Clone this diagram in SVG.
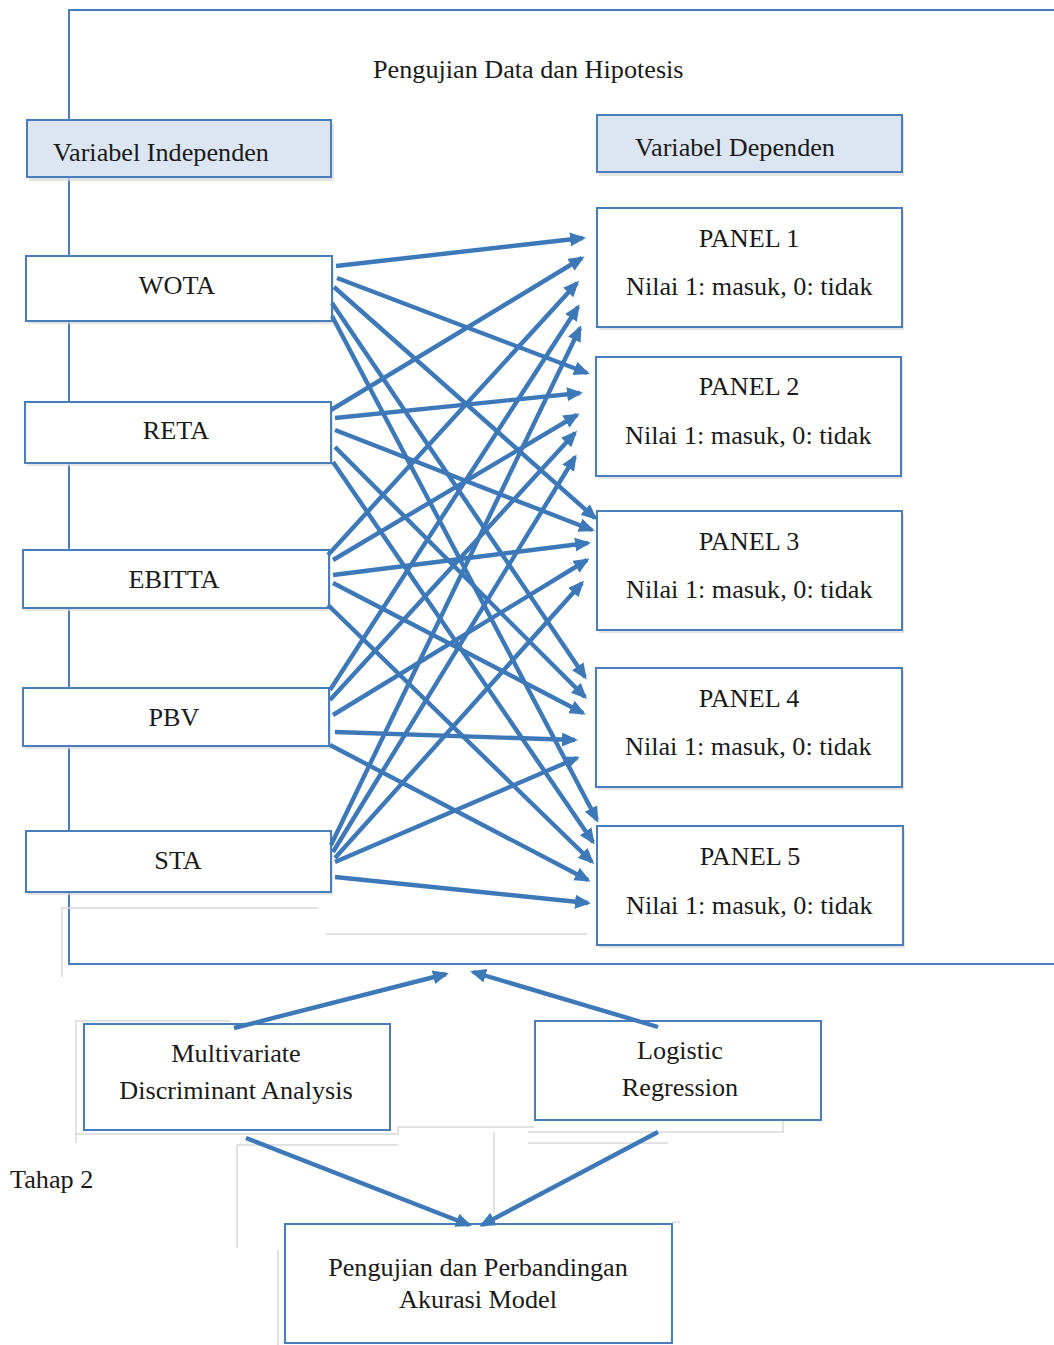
<svg xmlns="http://www.w3.org/2000/svg" width="1054" height="1345" viewBox="0 0 1054 1345">
<defs>
<style>
.box{fill:#ffffff;stroke:#4a7ebb;stroke-width:2}
.hdr{fill:#dce6f2;stroke:#4a7ebb;stroke-width:2}
.shd{fill:#d9d9d9;opacity:0.7}
.t{font-family:"Liberation Serif","Times New Roman",serif;font-size:26.2px;fill:#1a1a1a}
.c{text-anchor:middle}
.frame{fill:none;stroke:#4a7ebb;stroke-width:2}
.faint{fill:none;stroke:#d9d9d9;stroke-width:1.5}
.arr{fill:none;stroke:#3d78b9;stroke-width:4.4;marker-end:url(#ah)}
</style>
<marker id="ah" markerUnits="userSpaceOnUse" markerWidth="18" markerHeight="15" refX="13" refY="7" orient="auto">
<path d="M0,0 L16,7 L0,14 z" fill="#3d78b9"/>
</marker>
</defs>

<g id="frame">
<path class="frame" d="M1054,10 H69 V964 H1054"/>
<path class="faint" d="M326,934 H587"/>
<path class="faint" d="M318,908 H62 V977"/>
<path class="faint" d="M76,1143 V1021 H230"/>
<path class="faint" d="M76,1134 H398 V1127 H534"/>
<path class="faint" d="M237,1248 V1145 H398"/>
<path class="faint" d="M494,1132 V1213"/>
<path class="faint" d="M528,1132 H783 V1120"/>
<path class="faint" d="M528,1143 H668"/>
<path class="faint" d="M672,1222 H680"/>
<path class="faint" d="M278,1250 V1345"/>
<path d="M612,1043 H656" stroke="#555555" stroke-width="1.2"/>
</g>

<g id="title"><text class="t" x="373" y="78">Pengujian Data dan Hipotesis</text></g>
<g id="tahap2"><text class="t" x="10" y="1188">Tahap 2</text></g>

<g id="var-independen">
<rect class="shd" x="29" y="123" width="305" height="58"/>
<rect class="hdr" x="27" y="120" width="304" height="57"/>
<text class="t" x="53" y="161">Variabel Independen</text>
</g>
<g id="var-dependen">
<rect class="shd" x="599" y="118" width="305" height="58"/>
<rect class="hdr" x="597" y="115" width="305" height="57"/>
<text class="t" x="635" y="156">Variabel Dependen</text>
</g>

<g id="wota">
<rect class="shd" x="28" y="259" width="306" height="65"/>
<rect class="box" x="26" y="256" width="306" height="65"/>
<text class="t c" x="177" y="294">WOTA</text>
</g>
<g id="reta">
<rect class="shd" x="27" y="405" width="306" height="61"/>
<rect class="box" x="25" y="402" width="306" height="61"/>
<text class="t c" x="176" y="439">RETA</text>
</g>
<g id="ebitta">
<rect class="shd" x="25" y="553" width="306" height="58"/>
<rect class="box" x="23" y="550" width="306" height="58"/>
<text class="t c" x="174" y="588">EBITTA</text>
</g>
<g id="pbv">
<rect class="shd" x="25" y="691" width="306" height="58"/>
<rect class="box" x="23" y="688" width="306" height="58"/>
<text class="t c" x="174" y="726">PBV</text>
</g>
<g id="sta">
<rect class="shd" x="28" y="834" width="305" height="61"/>
<rect class="box" x="26" y="831" width="305" height="61"/>
<text class="t c" x="178" y="869">STA</text>
</g>

<g id="panel1">
<rect class="shd" x="599" y="211" width="305" height="119"/>
<rect class="box" x="597" y="208" width="305" height="119"/>
<text class="t c" x="749" y="247">PANEL 1</text>
<text class="t" x="626" y="295">Nilai 1: masuk, 0: tidak</text>
</g>
<g id="panel2">
<rect class="shd" x="598" y="360" width="305" height="119"/>
<rect class="box" x="596" y="357" width="305" height="119"/>
<text class="t c" x="749" y="395">PANEL 2</text>
<text class="t" x="625" y="444">Nilai 1: masuk, 0: tidak</text>
</g>
<g id="panel3">
<rect class="shd" x="599" y="514" width="305" height="119"/>
<rect class="box" x="597" y="511" width="305" height="119"/>
<text class="t c" x="749" y="550">PANEL 3</text>
<text class="t" x="626" y="598">Nilai 1: masuk, 0: tidak</text>
</g>
<g id="panel4">
<rect class="shd" x="598" y="671" width="306" height="119"/>
<rect class="box" x="596" y="668" width="306" height="119"/>
<text class="t c" x="749" y="707">PANEL 4</text>
<text class="t" x="625" y="755">Nilai 1: masuk, 0: tidak</text>
</g>
<g id="panel5">
<rect class="shd" x="599" y="829" width="306" height="119"/>
<rect class="box" x="597" y="826" width="306" height="119"/>
<text class="t c" x="750" y="865">PANEL 5</text>
<text class="t" x="626" y="914">Nilai 1: masuk, 0: tidak</text>
</g>

<g id="mda">
<rect class="box" x="84" y="1024" width="306" height="106"/>
<text class="t c" x="236" y="1062">Multivariate</text>
<text class="t c" x="236" y="1099">Discriminant Analysis</text>
</g>
<g id="logistic">
<rect class="box" x="535" y="1021" width="286" height="99"/>
<text class="t c" x="680" y="1059">Logistic</text>
<text class="t c" x="680" y="1096">Regression</text>
</g>
<g id="akurasi">
<rect class="box" x="285" y="1224" width="387" height="119"/>
<text class="t c" x="478" y="1276">Pengujian dan Perbandingan</text>
<text class="t c" x="478" y="1308">Akurasi Model</text>
</g>

<g id="connectors">
<line class="arr" x1="336" y1="266" x2="583" y2="238"/>
<line class="arr" x1="337" y1="278" x2="587" y2="373"/>
<line class="arr" x1="334" y1="287" x2="595" y2="518"/>
<line class="arr" x1="332" y1="303" x2="585" y2="677"/>
<line class="arr" x1="332" y1="316" x2="597" y2="820"/>

<line class="arr" x1="331" y1="410" x2="582" y2="258"/>
<line class="arr" x1="335" y1="418" x2="580" y2="393"/>
<line class="arr" x1="335" y1="430" x2="592" y2="530"/>
<line class="arr" x1="335" y1="447" x2="585" y2="697"/>
<line class="arr" x1="333" y1="462" x2="593" y2="842"/>

<line class="arr" x1="328" y1="555" x2="577" y2="283"/>
<line class="arr" x1="333" y1="560" x2="577" y2="415"/>
<line class="arr" x1="333" y1="575" x2="588" y2="543"/>
<line class="arr" x1="333" y1="583" x2="583" y2="713"/>
<line class="arr" x1="328" y1="605" x2="592" y2="862"/>

<line class="arr" x1="330" y1="690" x2="578" y2="307"/>
<line class="arr" x1="330" y1="700" x2="575" y2="433"/>
<line class="arr" x1="333" y1="715" x2="587" y2="560"/>
<line class="arr" x1="335" y1="732" x2="575" y2="740"/>
<line class="arr" x1="330" y1="745" x2="588" y2="880"/>

<line class="arr" x1="331" y1="845" x2="580" y2="328"/>
<line class="arr" x1="333" y1="852" x2="575" y2="457"/>
<line class="arr" x1="335" y1="858" x2="582" y2="583"/>
<line class="arr" x1="335" y1="862" x2="577" y2="758"/>
<line class="arr" x1="335" y1="877" x2="588" y2="903"/>

<line class="arr" x1="234" y1="1028" x2="446" y2="974"/>
<line class="arr" x1="658" y1="1027" x2="473" y2="972"/>
<line class="arr" x1="246" y1="1138" x2="469" y2="1225"/>
<line class="arr" x1="658" y1="1132" x2="482" y2="1225"/>
</g>
</svg>
